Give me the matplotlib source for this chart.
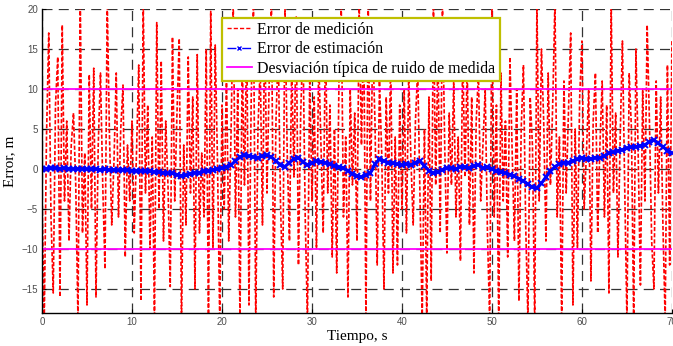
import numpy as np
import matplotlib.pyplot as plt
from matplotlib.lines import Line2D

#################### data
# measurement error, sampled every 0.25 s (0..70 s)
t_med = np.arange(0, 70.01, 0.25)
err_med = [
    -3, -19, 4, 17, -6, -15.5, 8, 14, -16, 18, -4, 6, -9, 3, 7, -2, -19, 22, -8, 2,
    -17, 11.8, -5, 12.6, -16, 3, 12, -2, -12.5, 21, 4, -7, 1, 12, -6, 5, 10.5, -11, 3, -4,
    6, -8, 2, 13, -16.5, 21, -3, 8, -10, 4, -19, 18.3, -5, 13.5, -9, 6, -2, -14.7, 16.5, -4,
    7, 16.3, -19, 3, -7, 14, -3, 9, -15, 14.3, -8, 2, -6, 15, -19, 19.7, -10, 15.5, 1, -19,
    8, -5, 12, -9, 4, 21, -6, 10, -19, 14, -2, 17, -17, 9, 20.5, -19, 5, 13, -7, 18,
    -3, 11, 21, -16, 6, 15, -4, -15, 20.5, 2, -9, 13, -1, 19, -12, 7, 16, -6, -19, 12,
    -4, 9, -10, 14, 3, -8, 17, -3, 8, -11, 5, -13, 11, 21, -6, 4, -16, 10, -2, 7,
    -9, 20.5, 3, 18, -19, 21, -4, 16, 6, -12, 11, 2, -15, 9, -3, 13.7, -13, 4, -12, 8,
    -5, 10, -8, 12, 1, -7, 6, 12.5, -3, -19, 5, -18.5, 9, -14, 20.5, -2, 15, -8, 21, 3,
    -10.5, 7, -2, 11, -6, 4, -11.5, 15, -1, 13, -7, 9, -13, 6, 12, -4, 3, 10, -8, -19,
    21, -6, 8, -19, 12, -4, 6, -11, 14, 2, -9, 10, -16.5, 5, 13, -7, -19, 9, 3, -19,
    21, -4, 15, 6, -9, 12, -2, 8, 21, -6, 4, -19, 11, -3, 7, 17, -17, 5, -10, 9,
    16, -5, 2, 10, -14, 6, 12, -8, 3, 11, -6, 8, -15.5, 21, -3, 7, -11, 4, 16, -2,
    -19, 12, 5, -19, 15, 2, -14.5, 10, -4, 18, 6, -9, -15, 11, -3, 9, -7, -19, 13, -12,
    16]

# estimation error, sampled every 0.5 s
t_est = np.arange(0, 70.01, 0.5)
err_est = [
    0.0, 0.05, 0.1, 0.1, 0.05, 0.1, 0.05, 0.0, 0.05, 0.0,
    0.0, -0.05, 0.0, -0.1, -0.05, -0.1, -0.1, -0.15, -0.1, -0.15,
    -0.2, -0.2, -0.25, -0.3, -0.3, -0.35, -0.4, -0.45, -0.5, -0.55,
    -0.7, -0.85, -0.8, -0.6, -0.5, -0.45, -0.3, -0.25, -0.1, 0.0,
    0.1, 0.25, 0.5, 1.0, 1.5, 1.7, 1.6, 1.5, 1.4, 1.6,
    1.7, 1.5, 1.0, 0.5, 0.3, 0.8, 1.3, 1.4, 0.9, 0.5,
    0.7, 1.0, 0.9, 0.8, 0.6, 0.4, 0.2, 0.1, -0.2, -0.6,
    -0.9, -1.0, -0.8, -0.5, 0.6, 1.2, 1.0, 0.8, 0.7, 0.6,
    0.5, 0.6, 0.5, 0.8, 1.0, 0.4, -0.2, -0.5, -0.4, -0.1,
    0.1, 0.1, 0.0, 0.3, 0.2, 0.1, 0.4, 0.5, 0.1, 0.2,
    0.0, -0.3, -0.4, -0.5, -0.7, -0.9, -1.2, -1.5, -1.9, -2.3,
    -2.4, -1.8, -1.0, -0.3, 0.3, 0.6, 0.8, 0.8, 1.0, 1.2,
    1.4, 1.3, 1.3, 1.4, 1.4, 1.6, 2.0, 2.1, 2.3, 2.4,
    2.6, 2.7, 2.8, 2.9, 3.0, 3.4, 3.6, 3.2, 2.8, 2.3,
    2.0]

sigma = 10
labels = ["Error de medici\u00f3n", "Error de estimaci\u00f3n",
          "Desviaci\u00f3n t\u00edpica de ruido de medida"]
####################

serif = ['Liberation Serif', 'DejaVu Serif']
sans = ['Liberation Sans', 'DejaVu Sans']

fig = plt.figure(figsize=(6.73, 3.46), dpi=100)
ax = fig.add_axes([0.0624, 0.0954, 0.936, 0.8786])

ax.plot(t_med, err_med, color='red', linewidth=1.2, dashes=(2.5, 1.2))
ax.plot(t_est, err_est, color='blue', linewidth=2.2, linestyle='-',
        marker='x', markersize=4.5, markeredgewidth=1.4)
ax.axhline(sigma, color='#ff00ff', linewidth=1.3)
ax.axhline(-sigma, color='#ff00ff', linewidth=1.3)

ax.set_xlim(0, 70)
ax.set_ylim(-18, 20)
ax.set_xticks(range(0, 71, 10))
ax.set_yticks(range(-15, 21, 5))
ax.grid(True, color='0.2', linewidth=0.9, linestyle=(0, (8, 5)))
ax.set_axisbelow(True)
for s in ['top', 'right']:
    ax.spines[s].set_visible(False)
ax.spines['left'].set_linewidth(1.0)
ax.spines['bottom'].set_linewidth(1.0)
ax.tick_params(direction='in', length=3, labelsize=7, labelcolor='0.3', pad=3)
for lab in ax.get_xticklabels() + ax.get_yticklabels():
    lab.set_family(sans)

ax.set_xlabel("Tiempo, s", family=serif, fontsize=11, labelpad=2)
ax.set_ylabel("Error, m", family=serif, fontsize=11, labelpad=4)

handles = [Line2D([], [], color='red', linewidth=1.0, dashes=(3, 1.5)),
           Line2D([], [], color='blue', linewidth=1.0, linestyle='-.',
                  marker='x', markersize=3),
           Line2D([], [], color='#ff00ff', linewidth=1.3)]
leg = ax.legend(handles, labels, loc='upper left', bbox_to_anchor=(0.286, 0.972),
                prop={'family': serif, 'size': 11.5}, fancybox=False,
                framealpha=1, edgecolor='#bfbf00', borderpad=0.28,
                labelspacing=0.22, handlelength=1.6, handletextpad=0.3,
                borderaxespad=0)
leg.get_frame().set_linewidth(1.6)

plt.savefig("out.png", dpi=100)
